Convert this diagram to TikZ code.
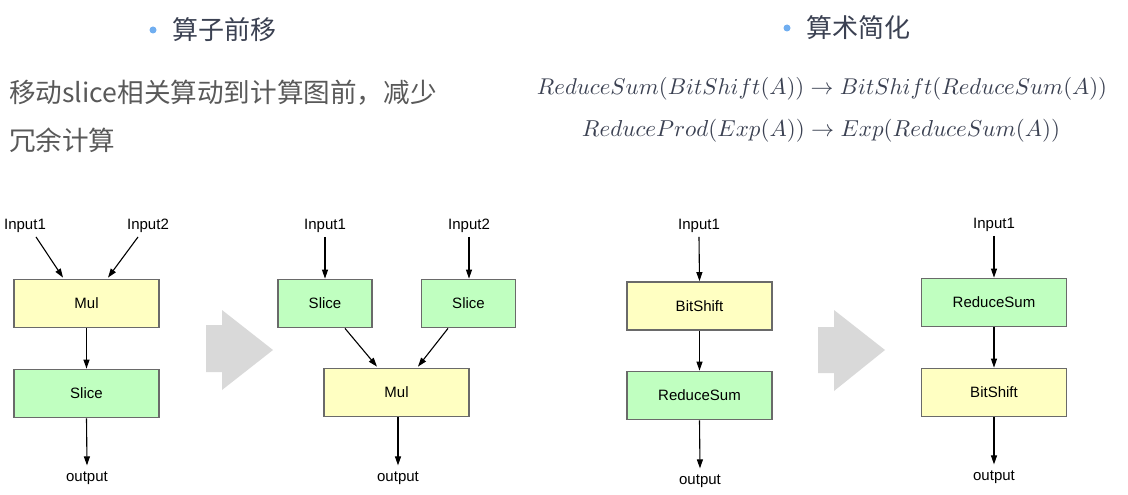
\documentclass[tikz,border=0pt]{standalone}
\usepackage{fontspec}
\setmainfont{Liberation Sans}
\newfontfamily\cjk{Noto Sans CJK SC}
\usetikzlibrary{arrows.meta,calc}
\definecolor{titlec}{HTML}{3B4152}
\definecolor{bodyc}{HTML}{595959}
\definecolor{bulletc}{HTML}{70AEF0}
\definecolor{yel}{HTML}{FFFFC2}
\definecolor{grn}{HTML}{C0FFC0}
\definecolor{boxb}{HTML}{6A6A6A}
\definecolor{bigarr}{HTML}{D9D9D9}
\tikzset{
  opbox/.style={draw=boxb,line width=1.8pt,minimum height=48pt,inner sep=0pt,font=\fontsize{15}{18}\selectfont},
  wide/.style={opbox,minimum width=145pt},
  narrow/.style={opbox,minimum width=94pt},
  ybox/.style={fill=yel},
  gbox/.style={fill=grn},
  lbl/.style={inner sep=0pt,font=\fontsize{15}{18}\selectfont},
  arr/.style={line width=1.1pt,-{Triangle[length=9pt,width=6pt]}},
  bigarrow/.style={fill=bigarr,draw=none},
  dot/.style={circle,fill=bulletc,inner sep=0pt,minimum size=7pt},
  title/.style={inner sep=0pt,anchor=west,text=titlec,font=\cjk\fontsize{26}{30}\selectfont},
  body/.style={inner sep=0pt,anchor=west,text=bodyc,font=\cjk\fontsize{26.6}{30}\selectfont},
  mathl/.style={inner sep=0pt,text=titlec}
}
\begin{document}
\begin{tikzpicture}[x=1pt,y=-1pt]
\useasboundingbox (0,0) rectangle (1128,495);
% top texts
\node[dot] (b1) at (153,30) {};
\node[title] (t1) at (172,30) {算子前移};
\node[dot] (b2) at (787,28) {};
\node[title] (t2) at (806,28) {算术简化};
\node[body] (d1) at (9,93) {移动slice相关算动到计算图前，减少};
\node[body] (d2) at (9,140) {冗余计算};
\node[mathl] (m1) at (822,89) {\resizebox{570pt}{!}{$ReduceSum(BitShift(A))\rightarrow BitShift(ReduceSum(A))$}};
\node[mathl] (m2) at (821,131) {\resizebox{478pt}{!}{$ReduceProd(Exp(A))\rightarrow Exp(ReduceSum(A))$}};

% panel 1
\node[lbl] (p1in1) at (25,226) {Input1};
\node[lbl] (p1in2) at (148,226) {Input2};
\node[wide,ybox] (p1mul) at (86.5,303.5) {Mul};
\node[wide,gbox] (p1sl) at (86.5,393.5) {Slice};
\node[lbl] (p1out) at (87,478) {output};
\draw[arr] ($(p1in1.south)+(11,4)$) -- ($(p1mul.north)+(-23.5,-1)$);
\draw[arr] ($(p1in2.south)+(-10,4)$) -- ($(p1mul.north)+(21.5,-1)$);
\draw[arr] (p1mul.south) -- (p1sl.north);
\draw[arr] (p1sl.south) -- ($(p1out.north)+(0,-6)$);

% big arrow 1
\fill[bigarrow] (206,325) -- (222,325) -- (222,310) -- (273,350) -- (222,390) -- (222,372) -- (206,372) -- cycle;

% panel 2
\node[lbl] (p2in1) at (325,226) {Input1};
\node[lbl] (p2in2) at (469,226) {Input2};
\node[narrow,gbox] (p2sl1) at (325,303.5) {Slice};
\node[narrow,gbox] (p2sl2) at (468.5,303.5) {Slice};
\node[wide,ybox] (p2mul) at (396.5,392.5) {Mul};
\node[lbl] (p2out) at (398,478) {output};
\draw[arr] ($(p2in1.south)+(0,4)$) -- (p2sl1.north);
\draw[arr] ($(p2in2.south)+(0,4)$) -- ($(p2sl2.north)+(0.5,0)$);
\draw[arr] ($(p2sl1.south)+(20,0)$) -- ($(p2mul.north)+(-19.5,-1)$);
\draw[arr] ($(p2sl2.south)+(-20.5,0)$) -- ($(p2mul.north)+(21.5,-1)$);
\draw[arr] ($(p2mul.south)+(1.5,0)$) -- ($(p2out.north)+(0,-6)$);

% panel 3
\node[lbl] (p3in) at (699,226) {Input1};
\node[wide,ybox] (p3bs) at (699.5,306) {BitShift};
\node[wide,gbox] (p3rs) at (699.5,395.5) {ReduceSum};
\node[lbl] (p3out) at (700,481) {output};
\draw[arr] ($(p3in.south)+(0,4)$) -- (p3bs.north);
\draw[arr] (p3bs.south) -- (p3rs.north);
\draw[arr] (p3rs.south) -- ($(p3out.north)+(0,-6)$);

% big arrow 2
\fill[bigarrow] (818,327) -- (834,327) -- (834,310) -- (885,350) -- (834,391) -- (834,373) -- (818,373) -- cycle;

% panel 4
\node[lbl] (p4in) at (994,225) {Input1};
\node[wide,gbox] (p4rs) at (994,302.5) {ReduceSum};
\node[wide,ybox] (p4bs) at (994,392.5) {BitShift};
\node[lbl] (p4out) at (994,477) {output};
\draw[arr] ($(p4in.south)+(0,4)$) -- (p4rs.north);
\draw[arr] (p4rs.south) -- (p4bs.north);
\draw[arr] (p4bs.south) -- ($(p4out.north)+(0,-6)$);
\end{tikzpicture}
\end{document}
